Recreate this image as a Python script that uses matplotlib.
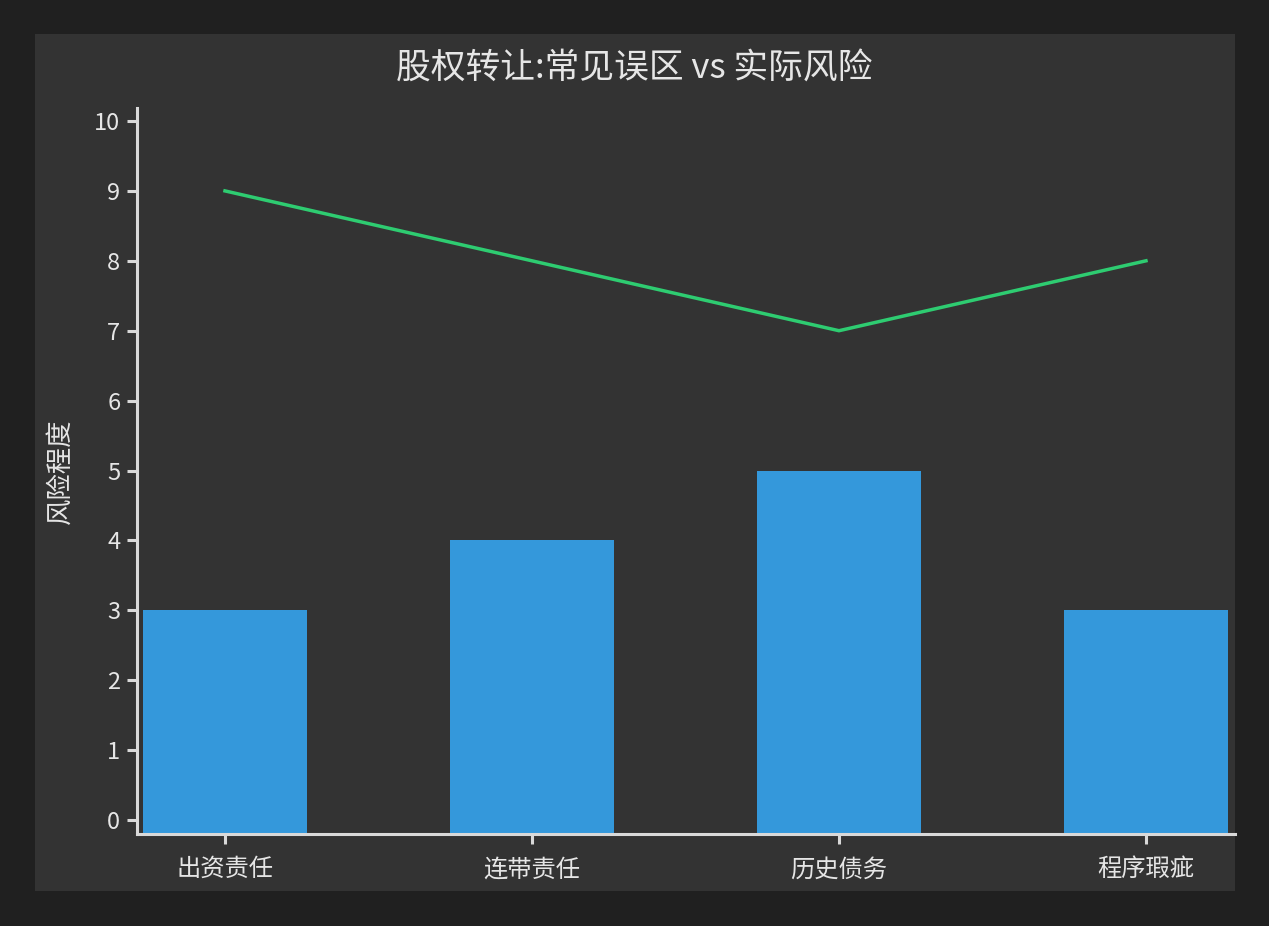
import matplotlib
matplotlib.use("Agg")
import matplotlib.pyplot as plt
from matplotlib.patches import Rectangle

plt.rcParams['font.family'] = ['Noto Sans CJK SC', 'DejaVu Sans']
plt.rcParams['font.weight'] = 'medium'

categories = ["出资责任", "连带责任", "历史债务", "程序瑕疵"]
bar_values = [3, 4, 5, 3]
line_values = [9, 8, 7, 8]
y_ticks = list(range(0, 11))
title = "股权转让:常见误区 vs 实际风险"
ylabel = "风险程度"

W, H = 1269, 926
fig = plt.figure(figsize=(W / 100, H / 100), dpi=100)
fig.patch.set_facecolor("#202020")
fig.patches.append(Rectangle((35 / W, 1 - 891 / H), 1200 / W, 857 / H,
                             transform=fig.transFigure, facecolor="#333333",
                             edgecolor="none", zorder=-5))

ax = fig.add_axes([137 / W, 1 - 834 / H, (1235 - 137) / W, (834 - 108) / H])
ax.set_zorder(2)
ax.set_facecolor("none")

x = list(range(len(categories)))
ymin, ymax = -0.2, 10.186
ax.set_xlim(-0.2866, 3.29)
ax.set_ylim(ymin, ymax)

ax.bar(x, [v - ymin for v in bar_values], bottom=ymin, width=0.535,
       color="#3498db", zorder=2)
ax.plot(x, line_values, color="#2ecc71", linewidth=2.5, zorder=3,
        solid_joinstyle="miter")

text_color = "#e6e6e6"
spine_color = "#d9d9d9"
for s in ["top", "right"]:
    ax.spines[s].set_visible(False)
for s in ["left", "bottom"]:
    ax.spines[s].set_color(spine_color)
    ax.spines[s].set_linewidth(2.2)

ax.set_xticks(x)
ax.set_xticklabels(categories)
ax.set_yticks(y_ticks)
ax.set_yticklabels([str(t) for t in y_ticks])
ax.tick_params(axis="both", colors=spine_color, labelcolor=text_color,
               length=7, width=2.2, labelsize=17)
ax.tick_params(axis="y", pad=5)
ax.tick_params(axis="x", pad=9, labelsize=17.5)
for lab in ax.get_xticklabels() + ax.get_yticklabels():
    lab.set_fontweight("medium")

fig.text(60 / W, 1 - 471 / H, ylabel, rotation=90, ha="center", va="center",
         color=text_color, fontsize=19, fontweight="medium")
fig.text(634 / W, 1 - 69 / H, title, ha="center", va="center",
         color=text_color, fontsize=25, fontweight="medium")

fig.savefig("out.png", dpi=100, facecolor=fig.get_facecolor())
